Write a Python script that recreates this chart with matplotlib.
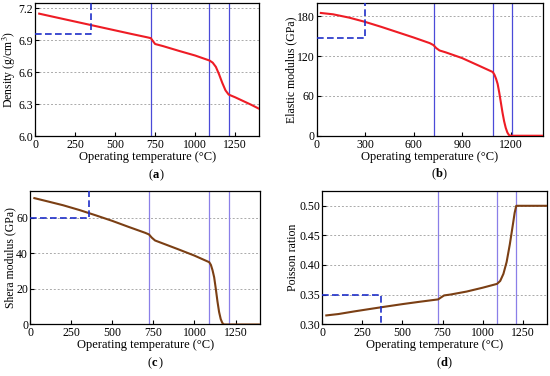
import numpy as np
import matplotlib
matplotlib.use("Agg")
import matplotlib.pyplot as plt

plt.rcParams['font.family'] = ['Liberation Serif', 'DejaVu Serif']
plt.rcParams['mathtext.fontset'] = 'stix'

# transition temperatures (vertical lines)
t_lines = [723, 1090, 1210]

# (a) density
t_a = [25, 100, 200, 300, 400, 500, 600, 700, 723, 735, 750, 800, 900, 1000, 1090,
       1110, 1130, 1150, 1170, 1190, 1210, 1250, 1300, 1350, 1400]
dens = [7.15, 7.125, 7.092, 7.059, 7.026, 6.993, 6.96, 6.928, 6.92, 6.895, 6.865, 6.845,
        6.80, 6.757, 6.71, 6.69, 6.65, 6.58, 6.50, 6.43, 6.39, 6.365, 6.33, 6.295, 6.257]

# (b) elastic modulus
t_b = [25, 100, 200, 300, 400, 500, 600, 700, 723, 740, 760, 800, 900, 1000, 1090,
       1100, 1110, 1120, 1130, 1140, 1150, 1160, 1170, 1180, 1190, 1200, 1300, 1400]
emod = [185, 183, 178, 171.5, 164, 156, 148, 139.5, 136.5, 132, 128.5, 125.5, 117, 106, 96,
        92, 86, 78, 65, 50, 35, 22, 12, 5, 1, 0, 0, 0]

# (c) shear modulus
t_c = [25, 100, 200, 300, 400, 500, 600, 700, 723, 740, 760, 800, 900, 1000, 1090,
       1100, 1110, 1120, 1130, 1140, 1150, 1160, 1170, 1180, 1250, 1400]
gmod = [71, 69.3, 67, 64.3, 61.3, 58.2, 54.8, 51.5, 50.6, 48.8, 47.2, 45.8, 42.3, 38.7, 35,
        33.5, 30.5, 26.5, 20, 13, 7, 3, 0.8, 0, 0, 0]

# (d) Poisson ratio
t_d = [25, 100, 200, 300, 400, 500, 600, 700, 723, 740, 760, 800, 900, 1000, 1090,
       1110, 1130, 1150, 1170, 1190, 1200, 1210, 1300, 1400]
pois = [0.3147, 0.317, 0.3215, 0.3257, 0.3298, 0.3338, 0.3375, 0.341, 0.3418, 0.345,
        0.3485, 0.350, 0.355, 0.3615, 0.368, 0.373, 0.385, 0.405, 0.435, 0.47, 0.488, 0.50,
        0.50, 0.50]

red = '#ee1c25'
brown = '#7b3f14'
blue_a = '#4a4ad8'
blue_c = '#8a7fe8'
dash_blue = '#1f2fc8'

fig = plt.figure(figsize=(5.5, 3.76), dpi=100)

panels = [
    # rect, t, y, color, vcolor, ylim, yticks, xticks, ylabel, box, tag
    ([0.064, 0.638, 0.407, 0.354], t_a, dens, red, blue_a, (6.0, 7.25),
     [6.0, 6.3, 6.6, 6.9, 7.2], [0, 250, 500, 750, 1000, 1250],
     'Density (g/cm$^3$)', (350, 6.96), '(a)', '{:.1f}'),
    ([0.576, 0.639, 0.411, 0.353], t_b, emod, red, blue_a, (0, 200),
     [0, 60, 120, 180], [0, 300, 600, 900, 1200],
     'Elastic modulus (GPa)', (300, 147), '(b)', '{:.0f}'),
    ([0.055, 0.137, 0.418, 0.355], t_c, gmod, brown, blue_c, (0, 75),
     [0, 20, 40, 60], [0, 250, 500, 750, 1000, 1250],
     'Shera modulus (GPa)', (355, 60), '(c)', '{:.0f}'),
    ([0.586, 0.138, 0.408, 0.354], t_d, pois, brown, blue_c, (0.30, 0.525),
     [0.30, 0.35, 0.40, 0.45, 0.50], [0, 250, 500, 750, 1000, 1250],
     'Poisson ration', (365, 0.35), '(d)', '{:.2f}'),
]

for rect, t, y, col, vcol, ylim, yt, xt, ylab, box, tag, fmt in panels:
    ax = fig.add_axes(rect)
    ax.set_xlim(0, 1400)
    ax.set_ylim(*ylim)
    ax.set_yticks(yt)
    ax.set_yticklabels([fmt.format(v) for v in yt])
    ax.set_xticks(xt)
    ax.yaxis.grid(True, linestyle=(0, (2, 2)), color='#aaaaaa', linewidth=0.7)
    ax.set_axisbelow(True)
    for tl in t_lines:
        ax.axvline(tl, color=vcol, linewidth=0.9)
    ax.plot(t, y, color=col, linewidth=1.5, zorder=3)
    bx, by = box
    if tag == '(d)':
        ax.plot([0, bx, bx], [by, by, ylim[0]], color=dash_blue, linestyle='--',
                linewidth=1.2, dashes=(4, 2), clip_on=False, zorder=4)
    else:
        ax.plot([0, bx, bx], [by, by, ylim[1]], color=dash_blue, linestyle='--',
                linewidth=1.2, dashes=(4, 2), clip_on=False, zorder=4)
    ax.tick_params(direction='in', labelsize=8.5, length=3, width=0.8, pad=2)
    ax.tick_params(axis='y', pad=1.5)
    ax.set_xlabel('Operating temperature (\u00b0C)', fontsize=9, labelpad=0)
    ax.set_ylabel(ylab, fontsize=8.5, labelpad=0)
    for s in ax.spines.values():
        s.set_linewidth(0.9)
    fig.text(rect[0] + rect[2] * 0.55 - 0.01, rect[1] - 0.103, tag[0], fontsize=9,
             ha='right', va='center')
    fig.text(rect[0] + rect[2] * 0.55 - 0.01, rect[1] - 0.103, tag[1], fontsize=9,
             fontweight='bold', ha='left', va='center')
    fig.text(rect[0] + rect[2] * 0.55 + 0.003, rect[1] - 0.103, tag[2], fontsize=9,
             ha='left', va='center')

fig.savefig('out.png', dpi=100)
